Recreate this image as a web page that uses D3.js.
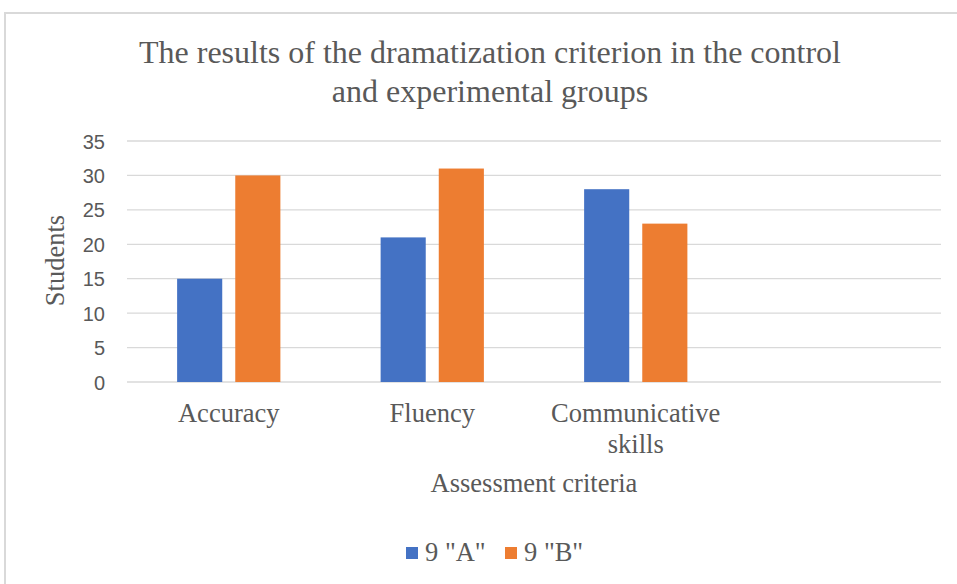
<!DOCTYPE html>
<html><head><meta charset="utf-8">
<script src="https://cdn.jsdelivr.net/npm/d3@7"></script>
<style>body{margin:0;background:#fff}svg{display:block}</style>
</head><body>
<script>
const categories = ["Accuracy", "Fluency", "Communicative skills", ""];
const seriesNames = ['9 "A"', '9 "B"'];
const valuesA = [15, 21, 28, null];
const valuesB = [30, 31, 23, null];
const yTicks = [0, 5, 10, 15, 20, 25, 30, 35];
const colors = ["#4472C4", "#ED7D31"];

(function(){
const W = 957, H = 584;
const svg = d3.select("body").append("svg").attr("width", W).attr("height", H);
svg.append("rect").attr("x", 5).attr("y", 13).attr("width", 1000).attr("height", 700)
  .attr("fill", "#fff").attr("stroke", "#d9d9d9").attr("stroke-width", 2);

const pL = 127, pR = 941, pT = 141, pB = 382;
const x0 = d3.scaleBand().domain(categories.map((d,i)=>i)).range([pL, pR]).padding(0);
const x1 = d3.scaleBand().domain([0,1]).range([0, x0.bandwidth()]).paddingInner(0.224).paddingOuter(0.862);
const y = d3.scaleLinear().domain([0, 35]).range([pB, pT]);

const serif = "'Liberation Serif','Times New Roman',serif";
const sans = "'Liberation Sans',Arial,sans-serif";
const fc = "#595959";

svg.append("g").selectAll("line").data(yTicks).join("line")
  .attr("x1", pL).attr("x2", pR).attr("y1", d=>y(d)).attr("y2", d=>y(d))
  .attr("stroke", "#d9d9d9").attr("stroke-width", 1.3);

const yAxis = d3.axisLeft(y).tickValues(yTicks).tickSize(0).tickPadding(0);
const ya = svg.append("g").attr("transform", `translate(105,0)`).call(yAxis);
ya.select(".domain").remove();
ya.selectAll("text").attr("font-family", sans).attr("font-size", 20).attr("fill", fc).attr("dy", "0.35em");

const series = [valuesA, valuesB];
series.forEach((vals, s) => {
  svg.append("g").selectAll("rect").data(vals.map((v,i)=>({v,i})).filter(d=>d.v!=null)).join("rect")
    .attr("x", d => x0(d.i) + x1(s))
    .attr("width", x1.bandwidth())
    .attr("y", d => y(d.v))
    .attr("height", d => y(0) - y(d.v))
    .attr("fill", colors[s]);
});

const catG = svg.append("g");
categories.forEach((c, i) => {
  if (!c) return;
  const cx = x0(i) + x0.bandwidth()/2;
  const lines = c === "Communicative skills" ? ["Communicative", "skills"] : [c];
  lines.forEach((t, k) => {
    catG.append("text").attr("x", cx).attr("y", 422 + k*31).attr("text-anchor", "middle")
      .attr("font-family", serif).attr("font-size", 26.5).attr("fill", fc).text(t);
  });
});

svg.append("text").attr("x", (pL+pR)/2).attr("y", 492).attr("text-anchor", "middle")
  .attr("font-family", serif).attr("font-size", 26.5).attr("fill", fc).text("Assessment criteria");
svg.append("text").attr("transform", `translate(64,${(pT+pB)/2 - 1}) rotate(-90)`).attr("text-anchor", "middle")
  .attr("font-family", serif).attr("font-size", 26.5).attr("fill", fc).text("Students");

const titleLines = ["The results of the dramatization criterion in the control", "and experimental groups"];
titleLines.forEach((t, k) => {
  svg.append("text").attr("x", 490).attr("y", 63 + k*39).attr("text-anchor", "middle")
    .attr("font-family", serif).attr("font-size", 32).attr("fill", fc).text(t);
});

const legX = [406, 505];
seriesNames.forEach((n, s) => {
  svg.append("rect").attr("x", legX[s]).attr("y", 547).attr("width", 12).attr("height", 12).attr("fill", colors[s]);
  svg.append("text").attr("x", legX[s] + 19).attr("y", 561).attr("font-family", serif).attr("font-size", 26.5)
    .attr("fill", fc).text(n);
});
})();
</script>
</body></html>
